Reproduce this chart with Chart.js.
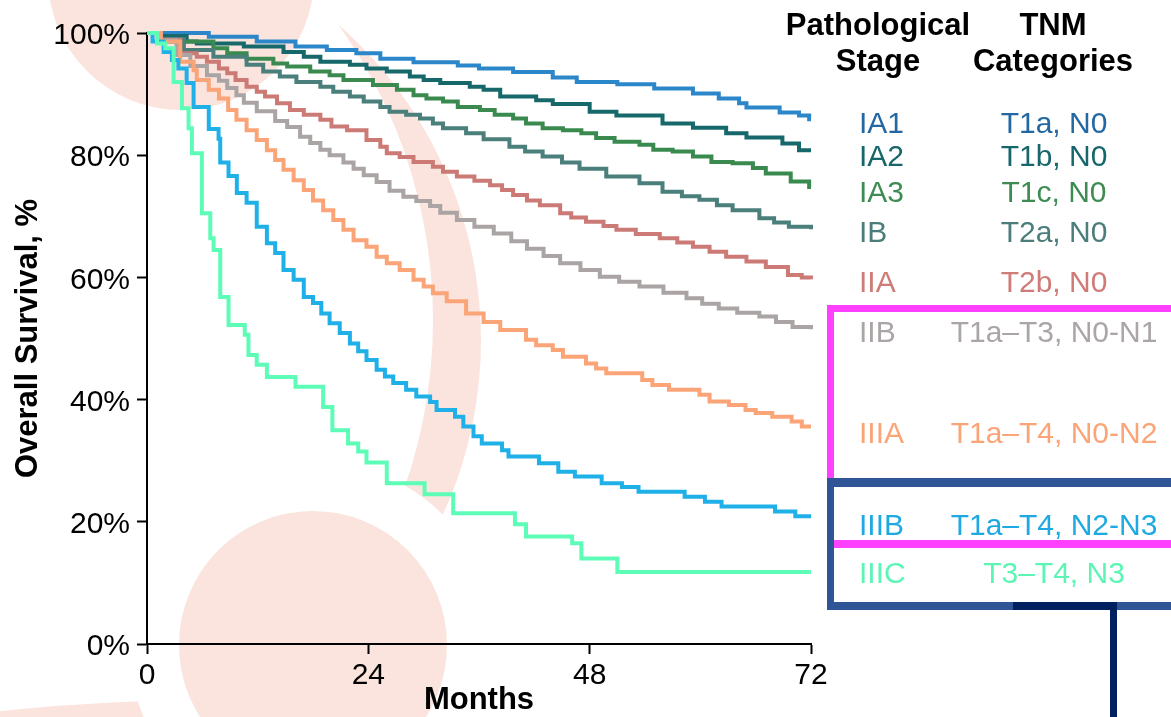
<!DOCTYPE html>
<html>
<head>
<meta charset="utf-8">
<script src="https://cdn.jsdelivr.net/npm/chart.js@4.4.1/dist/chart.umd.min.js"></script>
<style>
  html, body { margin: 0; padding: 0; background: #fff; }
  #wrap { position: relative; width: 1171px; height: 717px; overflow: hidden; font-family: 'Liberation Sans', Arial, sans-serif; }
  #km { position: absolute; left: 0; top: 0; }
  .row { position: absolute; font-size: 30px; line-height: 30px; white-space: nowrap; }
  .hdr { position: absolute; font-size: 31px; line-height: 31px; font-weight: bold; white-space: nowrap; color: #000; }
  .mid { transform: translateX(-50%); }
</style>
</head>
<body>
<div id="wrap">
  <canvas id="km" width="1171" height="717"></canvas>
</div>
<script>
// Stage labels + TNM categories (right hand table)
const stages = ['IA1', 'IA2', 'IA3', 'IB', 'IIA', 'IIB', 'IIIA', 'IIIB', 'IIIC'];
const tnmCats = ['T1a, N0', 'T1b, N0', 'T1c, N0', 'T2a, N0', 'T2b, N0',
  'T1a\u2013T3, N0-N1', 'T1a\u2013T4, N0-N2', 'T1a\u2013T4, N2-N3', 'T3\u2013T4, N3'];
const lineColors = ['#2b87ca', '#17686a', '#3a8a50', '#4a7f7b', '#cc7a76', '#aaa4a4', '#fba477', '#1fb0e8', '#5dfdb7'];
const textColors = ['#2367a3', '#17666a', '#3e8c53', '#4b7e7a', '#cf7b77', '#aba5a5', '#fba477', '#1ea9e3', '#5df5b5'];

// axis ticks
const monthTicks = [0, 24, 48, 72];
const survTicks = [0, 20, 40, 60, 80, 100];

// Kaplan-Meier curves (months, overall survival %)
const ia1Months = [0, 6.7, 11.9, 16.1, 19.5, 22.7, 25.3, 28.9, 33.7, 36, 39.7, 44, 46.6, 51, 55, 59.2, 62, 64.2, 65, 68.6, 70.7, 71.8, 72];
const ia1Surv   = [100, 99.4, 98.6, 97.8, 97.2, 96.7, 95.8, 95.2, 94.7, 94.2, 93.6, 92.7, 92.0, 91.6, 90.9, 90.1, 89.3, 88.5, 87.8, 87.0, 86.5, 85.9, 85.9];

const ia2Months = [0, 1.4, 4.3, 5.4, 10.5, 14.8, 17, 18.8, 22, 23.8, 26, 28.5, 30, 31.8, 35, 36.5, 38.3, 42.2, 44, 48, 50.9, 55.9, 59.2, 62.8, 65, 68.9, 70.7, 72];
const ia2Surv   = [100, 99.5, 98.6, 98.3, 97.8, 96.9, 96.1, 95.3, 94.8, 94.2, 93.7, 92.9, 92.3, 91.8, 91.2, 90.7, 89.6, 89.0, 88.4, 87.1, 86.5, 85.2, 84.5, 83.6, 82.9, 81.9, 80.8, 80.8];

const ia3Months = [0, 1.2, 2.2, 7.2, 8.7, 10.8, 13.7, 15.2, 17.7, 19.8, 21.3, 24.5, 27.1, 28.9, 30.3, 32.1, 33.7, 36.1, 37.7, 39.7, 41.1, 42.9, 45.1, 47.1, 48.7, 50.7, 53.4, 54.9, 57, 59.2, 61.2, 63.5, 65.7, 67.1, 69.8, 71.8, 72];
const ia3Surv   = [100, 99.0, 98.6, 97.5, 96.7, 95.8, 95.0, 94.5, 93.7, 93.1, 92.3, 91.5, 90.7, 89.8, 89.3, 88.8, 87.9, 87.4, 86.6, 86.0, 85.2, 84.4, 84.1, 83.6, 82.8, 82.2, 81.7, 80.9, 80.6, 79.8, 78.9, 78.7, 77.9, 77.0, 75.7, 74.8, 74.8];

const ibMonths = [0, 1.5, 4.0, 7.2, 10.8, 12.6, 14.4, 16.2, 18.8, 20.2, 22, 23.5, 25.3, 26.3, 28.1, 29.6, 31, 32.1, 34.6, 36.5, 39.3, 41, 42.9, 45, 46.9, 49.8, 53.4, 55.9, 58, 59.9, 61.8, 63.5, 66.4, 68, 69.6, 72];
const ibSurv   = [100, 99.0, 97.2, 96.1, 94.8, 93.7, 92.9, 92.0, 91.2, 90.4, 89.6, 88.8, 87.9, 87.1, 86.6, 86.0, 85.2, 84.4, 83.6, 82.6, 81.4, 80.6, 79.8, 78.8, 77.8, 76.5, 75.4, 74.0, 73.3, 72.7, 71.8, 71.0, 69.7, 69.0, 68.3, 67.9];

const iiaMonths = [0, 1.4, 3.6, 5.4, 6.5, 7.8, 8.7, 9.6, 10.8, 11.9, 12.8, 14.1, 15.5, 17, 18.8, 20, 21.7, 23.8, 25.3, 26, 27.4, 28.9, 31, 32.1, 33.6, 35.5, 37.2, 38.5, 39.7, 41.2, 42.6, 44.8, 46, 47.6, 49.5, 50.9, 53, 55.6, 57.5, 59.2, 61, 62.8, 65, 67.1, 69.5, 71, 72];
const iiaSurv   = [100, 98.9, 96.7, 96.1, 95.3, 94.2, 93.4, 92.3, 91.2, 90.4, 89.6, 88.5, 87.4, 86.6, 85.8, 84.7, 84.1, 82.5, 81.4, 80.3, 79.7, 78.9, 78.1, 77.3, 76.5, 75.8, 75.1, 74.3, 73.5, 72.6, 71.8, 70.5, 69.8, 69.1, 68.4, 67.8, 67.1, 66.4, 65.7, 65.0, 64.2, 63.4, 62.6, 61.7, 60.4, 60.0, 59.7];

const iibMonths = [0, 1.5, 3.2, 4.7, 6.5, 7.8, 8.7, 9.7, 10.5, 11.9, 13.9, 15.2, 16.6, 17.7, 18.8, 19.8, 21.3, 22.4, 23.5, 24.9, 26.3, 27.8, 29.2, 30.7, 31.8, 33.6, 35.5, 37.6, 39.5, 41.2, 43, 44.8, 47, 49.1, 51.2, 53.4, 56, 58.5, 60.2, 62, 64, 66.4, 68.2, 70, 72];
const iibSurv   = [100, 98.8, 96.4, 94.6, 93.1, 92.2, 91.0, 89.8, 88.6, 87.2, 85.6, 84.6, 83.0, 82.0, 80.9, 80.0, 78.8, 77.8, 76.7, 75.6, 74.2, 73.2, 72.5, 71.7, 70.6, 69.4, 68.3, 67.2, 65.9, 64.7, 63.5, 62.3, 61.2, 60.1, 59.3, 58.5, 57.5, 56.6, 55.7, 54.9, 54.2, 53.6, 52.7, 51.9, 51.5];

const iiiaMonths = [0, 1.5, 3.6, 5.05, 5.4, 6.7, 7.8, 8.8, 9.7, 10.8, 11.9, 13.0, 13.9, 14.8, 15.9, 17.0, 18.0, 19.1, 20.2, 21.3, 22.4, 23.8, 24.9, 26.0, 27.4, 28.9, 30.0, 31.0, 32.5, 34.6, 36.5, 38.3, 41.1, 42.2, 44.0, 45.1, 47.6, 48.7, 49.8, 53.7, 54.8, 56.6, 59.9, 61.0, 63.1, 64.9, 66.0, 67.8, 69.9, 71.0, 72];
const iiiaSurv   = [100, 98.6, 95.3, 93.9, 92.3, 90.7, 89.3, 87.4, 85.8, 84.1, 82.5, 80.8, 79.2, 77.6, 75.9, 74.3, 72.6, 71.0, 69.4, 67.8, 66.1, 65.0, 63.4, 62.3, 61.2, 59.6, 58.5, 57.4, 56.1, 54.1, 52.7, 51.4, 49.8, 48.9, 48.1, 47.0, 45.9, 45.1, 44.3, 43.2, 42.4, 41.6, 40.8, 39.7, 39.1, 38.3, 37.8, 37.2, 36.4, 35.6, 35.6];

const iiibMonths = [0, 0.6, 1.8, 2.7, 3.4, 4.3, 5.05, 6.7, 7.76, 7.94, 8.84, 9.74, 10.8, 11.9, 13.0, 13.9, 14.8, 15.9, 17.0, 18.0, 18.9, 19.8, 20.9, 22.0, 22.9, 23.8, 24.9, 25.8, 26.7, 28.1, 29.2, 30.7, 31.4, 33.4, 34.3, 35.4, 36.3, 38.5, 39.2, 42.5, 44.6, 46.4, 49.3, 51.5, 53.3, 58.3, 60.5, 62.3, 68.1, 70.3, 72];
const iiibSurv   = [100, 98.6, 96.9, 95.6, 94.2, 91.8, 87.9, 84.3, 82.7, 78.8, 76.6, 73.8, 72.2, 68.3, 65.6, 64.0, 61.2, 59.6, 56.8, 55.8, 54.1, 52.5, 50.9, 49.2, 47.9, 46.5, 44.9, 43.8, 42.7, 41.6, 40.5, 39.6, 38.3, 37.2, 35.6, 34.0, 32.8, 31.7, 30.7, 29.6, 28.2, 27.4, 26.3, 25.7, 24.9, 24.1, 23.3, 22.5, 21.7, 20.9, 20.9];

const iiicMonths = [0, 1.08, 1.98, 2.89, 3.79, 4.51, 4.87, 5.95, 6.86, 7.22, 7.94, 8.84, 10.6, 11.0, 11.9, 13.0, 16.1, 19.1, 20.1, 21.8, 22.9, 23.8, 26.0, 30.1, 33.2, 39.9, 41.1, 46.1, 47.1, 51.0, 72];
const iiicSurv   = [100, 98.3, 97.5, 92.0, 87.7, 84.4, 80.3, 70.5, 66.4, 64.5, 56.8, 52.2, 50.6, 47.3, 45.7, 43.7, 42.1, 38.8, 35.0, 32.8, 31.5, 29.7, 26.3, 24.5, 21.4, 19.6, 17.6, 16.5, 14.0, 11.8, 11.8];

const curveMonths = [ia1Months, ia2Months, ia3Months, ibMonths, iiaMonths, iibMonths, iiiaMonths, iiibMonths, iiicMonths];
const curveSurv = [ia1Surv, ia2Surv, ia3Surv, ibSurv, iiaSurv, iibSurv, iiiaSurv, iiibSurv, iiicSurv];

// layout of the right hand table (cap-centre y of each row)
const rowY = [123, 156, 192, 232, 282, 332, 433, 525, 573];
const stageX = 859, tnmX = 1054;

const FONT = "'Liberation Sans', Arial, sans-serif";
const PEACH = '#fbe4dd';

// decorative background blobs behind the plot
const backdrop = {
  id: 'backdrop',
  beforeDraw(chart) {
    const ctx = chart.ctx;
    ctx.save();
    ctx.fillStyle = '#fff';
    ctx.fillRect(0, 0, chart.width, chart.height);
    ctx.fillStyle = PEACH;
    // bottom-left sliver
    ctx.beginPath(); ctx.arc(210, 2700, 2000, 0, Math.PI * 2); ctx.fill();
    // crescent = outer circle minus inner circle
    ctx.save();
    ctx.beginPath(); ctx.arc(61, 340, 420, 0, Math.PI * 2); ctx.clip();
    ctx.beginPath();
    ctx.rect(-1000, -1000, 3000, 3000);
    ctx.arc(-75, 320, 508, 0, Math.PI * 2);
    ctx.fill('evenodd');
    ctx.restore();
    // top circle
    ctx.beginPath(); ctx.arc(181, -23, 133, 0, Math.PI * 2); ctx.fill();
    // bottom circle with white halo
    ctx.fillStyle = '#fff';
    ctx.beginPath(); ctx.arc(313, 645, 184, 0, Math.PI * 2); ctx.fill();
    ctx.fillStyle = PEACH;
    ctx.beginPath(); ctx.arc(313, 645, 134, 0, Math.PI * 2); ctx.fill();
    ctx.restore();
  }
};

// magenta / navy grouping boxes on the right
const boxes = {
  id: 'boxes',
  afterDraw(chart) {
    const ctx = chart.ctx;
    ctx.save();
    ctx.fillStyle = '#ff40ff';
    ctx.fillRect(827, 305, 344, 7);
    ctx.fillRect(827, 305, 7, 243);
    ctx.fillStyle = '#2f5597';
    ctx.fillRect(827, 478, 344, 9);
    ctx.fillRect(827, 478, 7, 132);
    ctx.fillRect(827, 602, 344, 8);
    ctx.fillStyle = '#ff40ff';
    ctx.fillRect(834, 540, 337, 8);
    ctx.fillStyle = '#00205f';
    ctx.fillRect(1013, 602, 104, 8);
    ctx.fillRect(1110, 602, 7, 115);
    ctx.restore();
  }
};

const datasets = stages.map((s, i) => ({
  label: s,
  data: curveMonths[i].map((m, j) => ({ x: m, y: curveSurv[i][j] })),
  borderColor: lineColors[i],
  borderWidth: 4,
  stepped: true,
  pointRadius: 0,
  fill: false,
  clip: false,
  order: stages.length - i   // later stages drawn on top
}));

new Chart(document.getElementById('km'), {
  type: 'line',
  data: { datasets: datasets },
  options: {
    responsive: false,
    animation: false,
    layout: { padding: { left: 0, top: 33, right: 360, bottom: 0 } },
    plugins: { legend: { display: false }, tooltip: { enabled: false } },
    scales: {
      x: {
        type: 'linear', min: 0, max: 72,
        afterBuildTicks: (sc) => { sc.ticks = monthTicks.map(v => ({ value: v })); },
        afterFit: (sc) => { sc.height = 73; },
        border: { color: '#000', width: 2 },
        grid: { drawOnChartArea: false, tickLength: 10, tickColor: '#000', tickWidth: 2 },
        ticks: { color: '#000', padding: 4, autoSkip: false, maxRotation: 0, font: { family: FONT, size: 30 } },
        title: { display: true, text: 'Months', color: '#000', padding: { top: 0, bottom: 1 },
          font: { family: FONT, size: 31, weight: 'bold', lineHeight: 1 } }
      },
      y: {
        min: 0, max: 100,
        afterBuildTicks: (sc) => { sc.ticks = survTicks.map(v => ({ value: v })); },
        afterFit: (sc) => { sc.width = 147; },
        border: { color: '#000', width: 2 },
        grid: { drawOnChartArea: false, tickLength: 10, tickColor: '#000', tickWidth: 2 },
        ticks: { color: '#000', padding: 7, labelOffset: 3, autoSkip: false, callback: v => v + '%', font: { family: FONT, size: 30 } },
        title: { display: true, text: 'Overall Survival, %', color: '#000', padding: { top: 13, bottom: 0 },
          font: { family: FONT, size: 31, weight: 'bold', lineHeight: 1 } }
      }
    }
  },
  plugins: [backdrop, boxes]
});

// right hand table as real text
const wrap = document.getElementById('wrap');
function addText(txt, cls, left, top, color) {
  const d = document.createElement('div');
  d.className = cls;
  d.textContent = txt;
  d.style.left = left + 'px';
  d.style.top = top + 'px';
  if (color) d.style.color = color;
  wrap.appendChild(d);
}
addText('Pathological', 'hdr mid', 878, 9);
addText('Stage', 'hdr mid', 878, 45);
addText('TNM', 'hdr mid', 1053, 9);
addText('Categories', 'hdr mid', 1053, 45);
stages.forEach((s, i) => {
  addText(s, 'row', stageX, rowY[i] - 14.7, textColors[i]);
  addText(tnmCats[i], 'row mid', tnmX, rowY[i] - 14.7, textColors[i]);
});
</script>
</body>
</html>
